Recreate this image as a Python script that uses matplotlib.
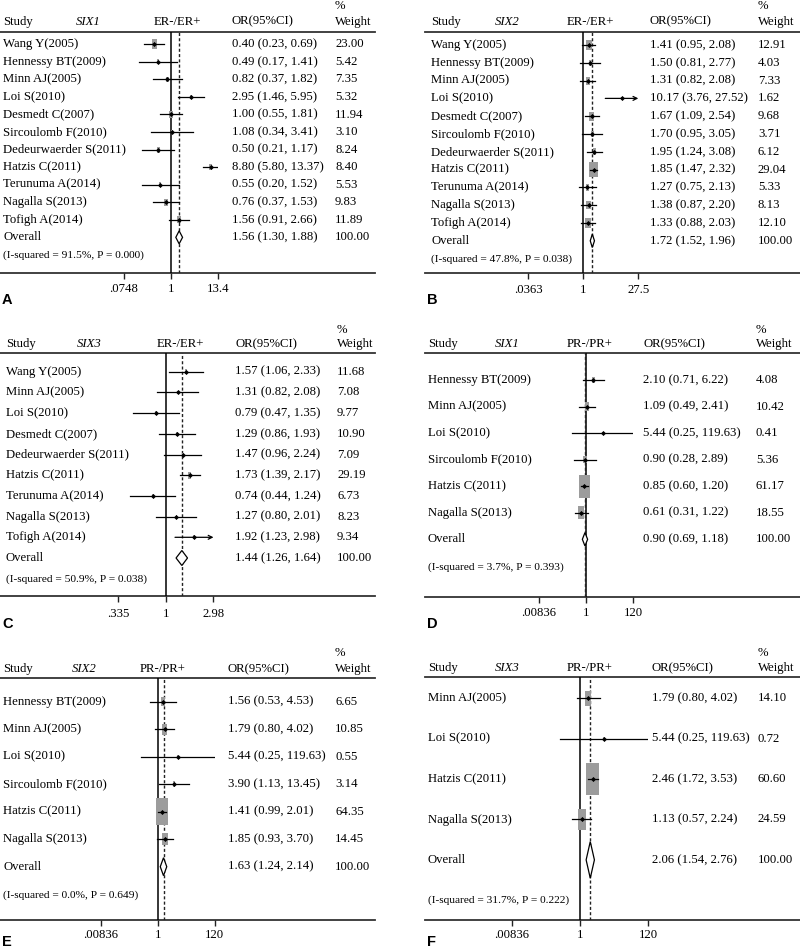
import numpy as np
import matplotlib.pyplot as plt
from matplotlib.patches import Rectangle, Polygon
from matplotlib.ticker import NullLocator
from matplotlib.transforms import blended_transform_factory

plt.rcParams['font.family'] = ['Liberation Serif', 'DejaVu Serif']

W, H = 800, 951
FS = 9.2

# ---- data ----
er_study_11 = ['Wang Y(2005)', 'Hennessy BT(2009)', 'Minn AJ(2005)', 'Loi S(2010)',
               'Desmedt C(2007)', 'Sircoulomb F(2010)', 'Dedeurwaerder S(2011)',
               'Hatzis C(2011)', 'Terunuma A(2014)', 'Nagalla S(2013)', 'Tofigh A(2014)']

# A: SIX1, ER
a_or = [0.40, 0.49, 0.82, 2.95, 1.00, 1.08, 0.50, 8.80, 0.55, 0.76, 1.56]
a_lo = [0.23, 0.17, 0.37, 1.46, 0.55, 0.34, 0.21, 5.80, 0.20, 0.37, 0.91]
a_hi = [0.69, 1.41, 1.82, 5.95, 1.81, 3.41, 1.17, 13.37, 1.52, 1.53, 2.66]
a_wt = [23.00, 5.42, 7.35, 5.32, 11.94, 3.10, 8.24, 8.40, 5.53, 9.83, 11.89]
a_overall = (1.56, 1.30, 1.88)
a_i2 = '(I-squared = 91.5%, P = 0.000)'
a_ticks = [0.0748, 1, 13.4]
a_ticklabels = ['.0748', '1', '13.4']

# B: SIX2, ER
b_or = [1.41, 1.50, 1.31, 10.17, 1.67, 1.70, 1.95, 1.85, 1.27, 1.38, 1.33]
b_lo = [0.95, 0.81, 0.82, 3.76, 1.09, 0.95, 1.24, 1.47, 0.75, 0.87, 0.88]
b_hi = [2.08, 2.77, 2.08, 27.52, 2.54, 3.05, 3.08, 2.32, 2.13, 2.20, 2.03]
b_wt = [12.91, 4.03, 7.33, 1.62, 9.68, 3.71, 6.12, 29.04, 5.33, 8.13, 12.10]
b_overall = (1.72, 1.52, 1.96)
b_i2 = '(I-squared = 47.8%, P = 0.038)'
b_ticks = [0.0363, 1, 27.5]
b_ticklabels = ['.0363', '1', '27.5']

# C: SIX3, ER
c_study = ['Wang Y(2005)', 'Minn AJ(2005)', 'Loi S(2010)', 'Desmedt C(2007)',
           'Dedeurwaerder S(2011)', 'Hatzis C(2011)', 'Terunuma A(2014)',
           'Nagalla S(2013)', 'Tofigh A(2014)']
c_or = [1.57, 1.31, 0.79, 1.29, 1.47, 1.73, 0.74, 1.27, 1.92]
c_lo = [1.06, 0.82, 0.47, 0.86, 0.96, 1.39, 0.44, 0.80, 1.23]
c_hi = [2.33, 2.08, 1.35, 1.93, 2.24, 2.17, 1.24, 2.01, 2.98]
c_wt = [11.68, 7.08, 9.77, 10.90, 7.09, 29.19, 6.73, 8.23, 9.34]
c_overall = (1.44, 1.26, 1.64)
c_i2 = '(I-squared = 50.9%, P = 0.038)'
c_ticks = [0.335, 1, 2.98]
c_ticklabels = ['.335', '1', '2.98']

# D, E: PR, six studies
pr_study_6 = ['Hennessy BT(2009)', 'Minn AJ(2005)', 'Loi S(2010)',
              'Sircoulomb F(2010)', 'Hatzis C(2011)', 'Nagalla S(2013)']
d_or = [2.10, 1.09, 5.44, 0.90, 0.85, 0.61]
d_lo = [0.71, 0.49, 0.25, 0.28, 0.60, 0.31]
d_hi = [6.22, 2.41, 119.63, 2.89, 1.20, 1.22]
d_wt = [4.08, 10.42, 0.41, 5.36, 61.17, 18.55]
d_overall = (0.90, 0.69, 1.18)
d_i2 = '(I-squared = 3.7%, P = 0.393)'

e_or = [1.56, 1.79, 5.44, 3.90, 1.41, 1.85]
e_lo = [0.53, 0.80, 0.25, 1.13, 0.99, 0.93]
e_hi = [4.53, 4.02, 119.63, 13.45, 2.01, 3.70]
e_wt = [6.65, 10.85, 0.55, 3.14, 64.35, 14.45]
e_overall = (1.63, 1.24, 2.14)
e_i2 = '(I-squared = 0.0%, P = 0.649)'

# F: SIX3, PR
f_study = ['Minn AJ(2005)', 'Loi S(2010)', 'Hatzis C(2011)', 'Nagalla S(2013)']
f_or = [1.79, 5.44, 2.46, 1.13]
f_lo = [0.80, 0.25, 1.72, 0.57]
f_hi = [4.02, 119.63, 3.53, 2.24]
f_wt = [14.10, 0.72, 60.60, 24.59]
f_overall = (2.06, 1.54, 2.76)
f_i2 = '(I-squared = 31.7%, P = 0.222)'

pr_ticks = [0.00836, 1, 120]
pr_ticklabels = ['.00836', '1', '120']

# layout in pixels (x1 = position of OR=1, s = pixels per log unit)
panels = [
    dict(letter='A', gene='SIX1', group='ER-/ER+', study=er_study_11, est=a_or, lo=a_lo, hi=a_hi,
         wt=a_wt, overall=a_overall, i2=a_i2, ticks=a_ticks, tl=a_ticklabels,
         x1=171, s=18.3, xl=(0, 375), yh=31.7, y0=44.3, dy=17.55, ya=273.3, ypct=6, yhead=21.7,
         yi2=255, ytick=287, ylet=300, cols=(3, 76, 177, 232, 335), k=2.08, r=0.5, dh=6.5),
    dict(letter='B', gene='SIX2', group='ER-/ER+', study=er_study_11, est=b_or, lo=b_lo, hi=b_hi,
         wt=b_wt, overall=b_overall, i2=b_i2, ticks=b_ticks, tl=b_ticklabels,
         x1=583.3, s=16.6, xl=(425, 800), yh=31.7, y0=45, dy=17.8, ya=273.3, ypct=6, yhead=21.7,
         yi2=259.3, ytick=288, ylet=300, cols=(431, 495, 590, 650, 758), k=2.9, r=0.52, dh=6.7),
    dict(letter='C', gene='SIX3', group='ER-/ER+', study=c_study, est=c_or, lo=c_lo, hi=c_hi,
         wt=c_wt, overall=c_overall, i2=c_i2, ticks=c_ticks, tl=c_ticklabels,
         x1=166, s=43.5, xl=(0, 375), yh=353.3, y0=371.7, dy=20.7, ya=596, ypct=330, yhead=344,
         yi2=579.3, ytick=612.7, ylet=624, cols=(6, 77, 180, 235, 337), k=1.35, r=0.45, dh=7.5),
    dict(letter='D', gene='SIX1', group='PR-/PR+', study=pr_study_6, est=d_or, lo=d_lo, hi=d_hi,
         wt=d_wt, overall=d_overall, i2=d_i2, ticks=pr_ticks, tl=pr_ticklabels,
         x1=586, s=9.8, xl=(425, 800), yh=353.3, y0=380, dy=26.55, ya=596.7, ypct=330, yhead=344,
         yi2=566.7, ytick=611.7, ylet=624, cols=(428, 495, 590, 643, 756), k=2.95, r=0.48, dh=6.7),
    dict(letter='E', gene='SIX2', group='PR-/PR+', study=pr_study_6, est=e_or, lo=e_lo, hi=e_hi,
         wt=e_wt, overall=e_overall, i2=e_i2, ticks=pr_ticks, tl=pr_ticklabels,
         x1=157.7, s=11.9, xl=(0, 375), yh=678.3, y0=701.7, dy=27.5, ya=920, ypct=653.3, yhead=669.3,
         yi2=895, ytick=933.3, ylet=942, cols=(3, 72, 163, 228, 335), k=3.3, r=0.44, dh=9),
    dict(letter='F', gene='SIX3', group='PR-/PR+', study=f_study, est=f_or, lo=f_lo, hi=f_hi,
         wt=f_wt, overall=f_overall, i2=f_i2, ticks=pr_ticks, tl=pr_ticklabels,
         x1=580, s=14.2, xl=(425, 800), yh=677.3, y0=698.3, dy=40.4, ya=920, ypct=653.3, yhead=668.3,
         yi2=900, ytick=933.3, ylet=942, cols=(428, 495, 590, 652, 758), k=4.07, r=0.4, dh=18.3),
]

fig = plt.figure(figsize=(W / 100, H / 100), dpi=100)
base = fig.add_axes([0, 0, 1, 1])
base.set_xlim(0, W)
base.set_ylim(H, 0)
base.axis('off')

for p in panels:
    lo_t, hi_t = p['ticks'][0], p['ticks'][-1]
    xa = p['x1'] + p['s'] * np.log(lo_t)
    xb = p['x1'] + p['s'] * np.log(hi_t)
    ax = fig.add_axes([xa / W, 1 - p['ya'] / H, (xb - xa) / W, (p['ya'] - p['yh']) / H])
    ax.set_xscale('log')
    ax.set_xlim(lo_t, hi_t)
    ax.set_ylim((p['ya'] - p['y0']) / p['dy'], (p['yh'] - p['y0']) / p['dy'])
    ax.patch.set_alpha(0)
    for sp in ax.spines.values():
        sp.set_visible(False)
    ax.set_yticks([])
    ax.set_xticks(p['ticks'])
    ax.set_xticklabels(p['tl'])
    ax.xaxis.set_minor_locator(NullLocator())
    pad_px = (p['ytick'] - p['ya']) - 4 - 6
    ax.tick_params(axis='x', direction='out', length=4, width=1, labelsize=FS,
                   pad=max(pad_px, 0) * 0.72, color='#222222')

    # frame lines across the panel
    base.plot(p['xl'], [p['yh'], p['yh']], color='#333333', lw=1.3)
    base.plot(p['xl'], [p['ya'], p['ya']], color='#333333', lw=1.3)

    # null line and overall line
    ax.axvline(1, color='black', lw=1.1, zorder=1)
    ov, ovl, ovh = p['overall']
    ax.axvline(ov, color='#222222', lw=1.0, ls=(0, (2.2, 1.6)), zorder=1)

    # study rows
    n = len(p['est'])
    for i in range(n):
        est, lo, hi, w = p['est'][i], p['lo'][i], p['hi'][i], p['wt'][i]
        hpx = p['k'] * np.sqrt(w)
        wpx = hpx * p['r']
        bl = est * np.exp(-wpx / 2 / p['s'])
        br = est * np.exp(wpx / 2 / p['s'])
        ax.add_patch(Rectangle((bl, i - hpx / 2 / p['dy']), br - bl, hpx / p['dy'],
                               facecolor='#9c9c9c', edgecolor='none', zorder=2))
        if hi >= hi_t:
            ax.annotate('', xy=(hi_t, i), xytext=(lo, i),
                        arrowprops=dict(arrowstyle='->', lw=0.9, color='black',
                                        shrinkA=0, shrinkB=0, mutation_scale=7), zorder=3)
        else:
            ax.plot([lo, hi], [i, i], color='black', lw=0.9, zorder=3)
        ax.plot([est], [i], marker='D', ms=2.6, color='black', mew=0, zorder=4)

    # overall diamond
    dh = p['dh'] / p['dy']
    ax.add_patch(Polygon([(ovl, n), (ov, n - dh), (ovh, n), (ov, n + dh)], closed=True,
                         facecolor='white', edgecolor='black', lw=0.9, zorder=3))

    # text columns
    cs, cg, cgrp, cor, cw = p['cols']
    tr = blended_transform_factory(base.transData, ax.transData)
    base.text(cw, p['ypct'], '%', fontsize=FS, va='center', ha='left')
    base.text(cs, p['yhead'], 'Study', fontsize=FS, va='center', ha='left')
    base.text(cg, p['yhead'], p['gene'], fontsize=FS, va='center', ha='left', style='italic')
    base.text(cgrp, p['yhead'], p['group'], fontsize=FS, va='center', ha='center')
    base.text(cor, p['yhead'], 'OR(95%CI)', fontsize=FS, va='center', ha='left')
    base.text(cw, p['yhead'], 'Weight', fontsize=FS, va='center', ha='left')
    for i in range(n):
        base.text(cs, i, p['study'][i], fontsize=FS, va='center', ha='left', transform=tr)
        base.text(cor, i, f"{p['est'][i]:.2f} ({p['lo'][i]:.2f}, {p['hi'][i]:.2f})",
                  fontsize=FS, va='center', ha='left', transform=tr)
        base.text(cw, i, f"{p['wt'][i]:.2f}", fontsize=FS, va='center', ha='left', transform=tr)
    base.text(cs, n, 'Overall', fontsize=FS, va='center', ha='left', transform=tr)
    base.text(cor, n, f"{ov:.2f} ({ovl:.2f}, {ovh:.2f})", fontsize=FS, va='center', ha='left',
              transform=tr)
    base.text(cw, n, '100.00', fontsize=FS, va='center', ha='left', transform=tr)
    base.text(cs, p['yi2'], p['i2'], fontsize=8.2, va='center', ha='left')
    base.text(p['xl'][0] + 2, p['ylet'], p['letter'], fontsize=10.5, fontweight='bold',
              family=['Liberation Sans', 'DejaVu Sans'], va='center', ha='left')

fig.savefig('out.png', dpi=100)
